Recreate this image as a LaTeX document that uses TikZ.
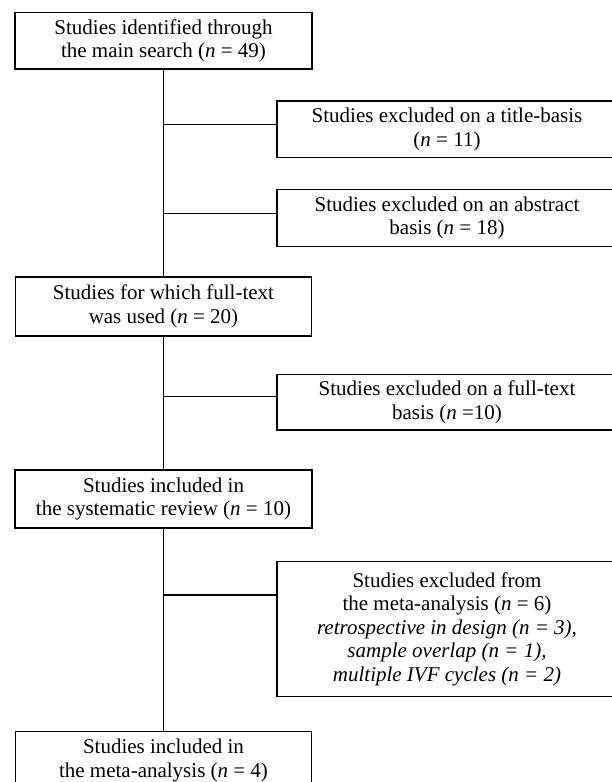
\documentclass[tikz,border=0pt]{standalone}
\usepackage{fontspec}
\setmainfont{Liberation Serif}
\begin{document}
\begin{tikzpicture}[x=1bp,y=-1bp,
  box/.style={draw, line width=1.1bp, align=center, inner sep=0pt,
    font=\fontsize{21bp}{23.5bp}\selectfont},
  link/.style={line width=1.1bp}]
\useasboundingbox (0,0) rectangle (612,782);
\clip (0,0) rectangle (612,782);
\node[box, minimum width=297bp, minimum height=56.5bp] (b1) at (163.5,40.75)
  {Studies identified through\\the main search (\textit{n} = 49)};
\node[box, minimum width=340bp, minimum height=56.5bp] (e1) at (447,129.25)
  {Studies excluded on a title-basis\\(\textit{n} = 11)};
\node[box, minimum width=340bp, minimum height=57.2bp] (e2) at (447,218.1)
  {Studies excluded on an abstract\\basis (\textit{n} = 18)};
\node[box, minimum width=296bp, minimum height=59bp] (b2) at (163.5,306.5)
  {Studies for which full-text\\was used (\textit{n} = 20)};
\node[box, minimum width=340bp, minimum height=55.7bp] (e3) at (447,402.15)
  {Studies excluded on a full-text\\basis (\textit{n} =10)};
\node[box, minimum width=297bp, minimum height=58bp] (b3) at (163.5,499)
  {Studies included in\\the systematic review (\textit{n} = 10)};
\node[box, minimum width=340bp, minimum height=135bp] (e4) at (447,629.2)
  {Studies excluded from\\the meta-analysis (\textit{n} = 6)\\
   \textit{retrospective in design (n = 3),}\\
   \textit{sample overlap (n = 1),}\\
   \textit{multiple IVF cycles (n = 2)}};
\node[box, minimum width=296bp, minimum height=58bp] (b4) at (163.5,760.5)
  {Studies included in\\the meta-analysis (\textit{n} = 4)};
% trunk
\draw[link] (b1.south) -- (b2.north);
\draw[link] (b2.south) -- (b3.north);
\draw[link] (b3.south) -- (b4.north);
% junctions on trunk
\coordinate (j1) at (163.5,124.3);
\coordinate (j2) at (163.5,213.3);
\coordinate (j3) at (163.5,396.7);
\coordinate (j4) at (163.5,595);
\draw[link] (j1) -- (j1 -| e1.west);
\draw[link] (j2) -- (j2 -| e2.west);
\draw[link] (j3) -- (j3 -| e3.west);
\draw[link] (j4) -- (j4 -| e4.west);
\end{tikzpicture}
\end{document}
